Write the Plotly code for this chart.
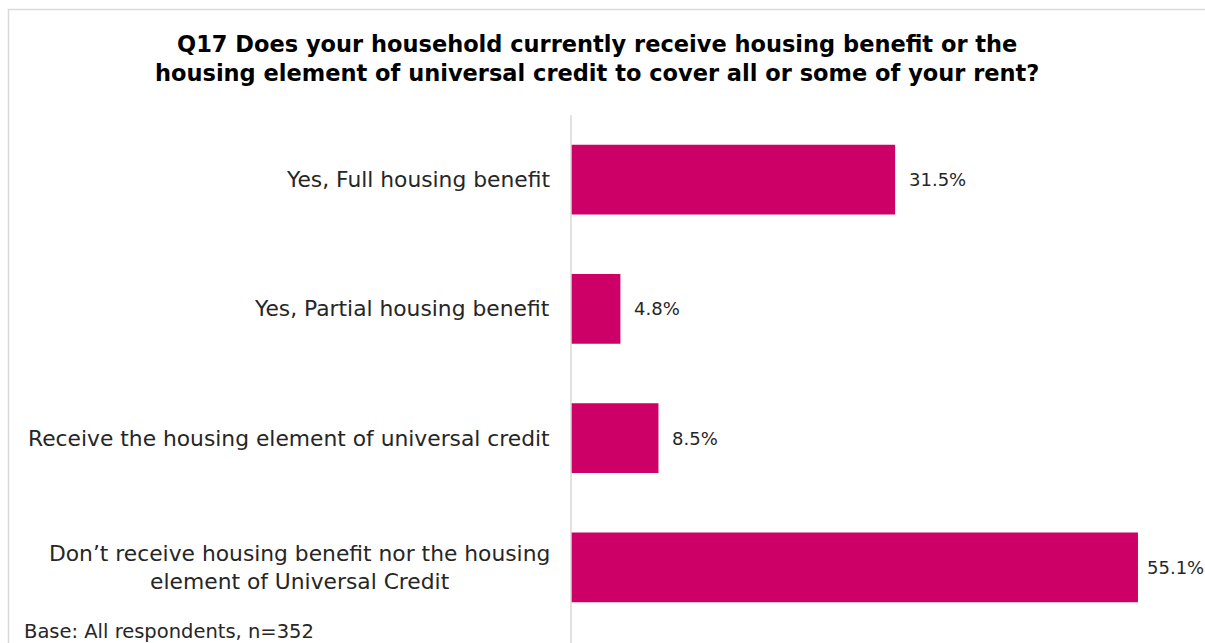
import plotly.graph_objects as go

W, H = 1205, 643

categories = [
    "Yes, Full housing benefit",
    "Yes, Partial housing benefit",
    "Receive the housing element of universal credit",
    "Don\u2019t receive housing benefit nor the housing<br>element of Universal Credit",
]
values = [31.5, 4.8, 8.5, 55.1]
value_labels = ["31.5%", "4.8%", "8.5%", "55.1%"]

BAR = "#CC0066"
FONT = "DejaVu Sans, Verdana, sans-serif"

# plot area in pixels
L, R, T, B = 571, 25, 115, 11
pw = W - L - R
ph = H - T - B


def px_x(x):
    return (x - L) / pw


def px_y(y):
    return (H - B - y) / ph


fig = go.Figure(
    go.Bar(
        y=categories,
        x=values,
        orientation="h",
        marker=dict(color=BAR, line=dict(width=0)),
        hoverinfo="skip",
    )
)

# category labels, right aligned to the axis, centred lines
for c in categories:
    fig.add_annotation(
        x=0, y=c, xref="paper", yref="y", text=c, showarrow=False,
        xanchor="right", yanchor="middle", align="center", xshift=-19,
        font=dict(family=FONT, size=21.8, color="#262626"),
    )

# value labels at the end of each bar; the longest bar gets a tighter gap
# so its label stays inside the frame
for c, v, t in zip(categories, values, value_labels):
    gap = 7 if v == max(values) else 12
    fig.add_annotation(
        x=v, y=c, xref="x", yref="y", text=t, showarrow=False,
        xanchor="left", yanchor="middle", xshift=gap,
        font=dict(family=FONT, size=18, color="#262626"),
    )

fig.add_annotation(
    x=px_x(597), y=px_y(58), xref="paper", yref="paper",
    text="<b>Q17 Does your household currently receive housing benefit or the<br>"
         "housing element of universal credit to cover all or some of your rent?</b>",
    showarrow=False, xanchor="center", yanchor="middle", align="center",
    font=dict(family=FONT, size=22.5, color="#000000"),
)

fig.add_annotation(
    x=px_x(22), y=px_y(631), xref="paper", yref="paper",
    text="Base: All respondents, n=352", showarrow=False,
    xanchor="left", yanchor="middle",
    font=dict(family=FONT, size=19.5, color="#262626"),
)

# outer frame and axis line
fig.add_shape(type="rect", xref="paper", yref="paper",
              x0=px_x(8.5), x1=px_x(1210), y0=px_y(9.5), y1=px_y(700),
              line=dict(color="#D9D9D9", width=1.5))
fig.add_shape(type="line", xref="paper", yref="paper",
              x0=0, x1=0, y0=px_y(115), y1=px_y(650),
              line=dict(color="#D9D9D9", width=1.5))

fig.update_layout(
    width=W, height=H,
    margin=dict(l=L, r=R, t=T, b=B),
    paper_bgcolor="white", plot_bgcolor="white",
    bargap=0.46,
    showlegend=False,
    xaxis=dict(range=[0, pw / 10.29], visible=False, fixedrange=True),
    yaxis=dict(autorange="reversed", showticklabels=False, showgrid=False,
               zeroline=False, showline=False, ticks="", fixedrange=True),
)

fig.write_html("out.html", config={"displayModeBar": False})
